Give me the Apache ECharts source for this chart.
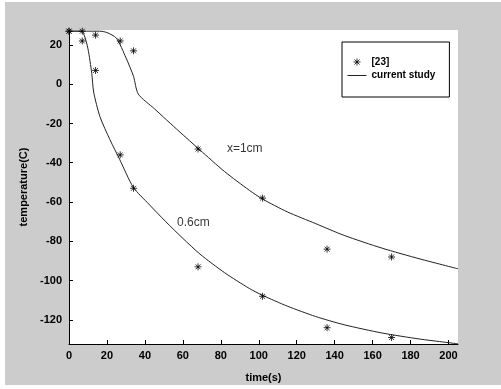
<!DOCTYPE html>
<html>
<head>
<meta charset="utf-8">
<script src="https://cdn.jsdelivr.net/npm/echarts@6/dist/echarts.min.js"></script>
<style>
  html, body { margin: 0; padding: 0; background: #fff; }
  #bg { position: absolute; left: 5px; top: 2px; width: 496px; height: 383px; background: #cccccc; }
  #chart { position: absolute; left: 0; top: 0; width: 501px; height: 389px; }
</style>
</head>
<body>
<div id="bg"></div>
<div id="chart"></div>
<script>
// measured points, reference [23]
let measTime = [0, 7, 14, 27, 34, 68, 102, 136, 170];
let meas1cm = [27, 27, 25, 22, 17, -33, -58, -84, -88];
let meas06cm = [27, 22, 7, -36, -53, -93, -108, -124, -129];

// current study curves
let curveTime1cm = [0, 16, 20, 25, 30, 34, 36.5, 45, 58, 69, 82, 95, 102, 115, 130, 145, 165, 185, 205];
let curve1cm = [27, 27, 26.3, 23.4, 13.5, 4, -5, -12.5, -24, -33.5, -44.5, -54, -58.5, -65, -71, -77, -83.5, -89, -94];
let curveTime06cm = [0, 6, 8, 10, 12, 13, 16.3, 21.6, 26.8, 33.9, 42, 51, 60, 69, 82, 95, 102, 115, 130, 145, 165, 185, 205];
let curve06cm = [27, 27, 25, 18, 5.5, -4, -16.5, -28.3, -38.5, -52.5, -61, -70, -78.5, -86.5, -96, -104, -107.5, -113, -118.3, -122.5, -126.7, -129.8, -132.2];

// curve labels
let noteNames = ['x=1cm', '0.6cm'];
let noteTime = [92.6, 65.5];
let noteTemp = [-32.9, -70.7];

let xTicks = [0, 20, 40, 60, 80, 100, 120, 140, 160, 180, 200];
let yTicks = [-120, -100, -80, -60, -40, -20, 0, 20];

const STAR = 'path://M0,-1L0,1M-1,0L1,0M-0.7,-0.7L0.7,0.7M-0.7,0.7L0.7,-0.7';
// legend icon is not drawn with strokeNoScale, so keep it in pixel units
const STAR_LEGEND = 'path://M0,0M11,11M5.5,2L5.5,9M2,5.5L9,5.5M3,3L8,8M3,8L8,3';
const FONT = 'Liberation Sans, Arial, sans-serif';

function zip(xs, ys) {
  return xs.map((x, i) => [x, ys[i]]);
}

let chart = echarts.init(document.getElementById('chart'));

let starSeries = (values) => ({
  name: '[23]',
  type: 'scatter',
  data: zip(measTime, values),
  symbol: STAR,
  symbolSize: 7,
  itemStyle: { color: '#000', borderColor: '#000', borderWidth: 1 },
  z: 4
});

let curveSeries = (xs, ys) => ({
  name: 'current study',
  type: 'line',
  data: zip(xs, ys),
  symbol: 'none',
  smooth: 0.25,
  itemStyle: { color: '#222' },
  lineStyle: { color: '#222', width: 1 },
  z: 3
});

chart.setOption({
  animation: false,
  backgroundColor: 'transparent',
  grid: {
    left: 69, right: 43, top: 30, bottom: 45,
    show: true, backgroundColor: '#fff', borderWidth: 0
  },
  legend: {
    data: [
      { name: '[23]', icon: STAR_LEGEND, itemStyle: { color: '#000', borderColor: '#000', borderWidth: 1 } },
      {
        name: 'current study',
        itemStyle: { color: 'rgba(0,0,0,0)', borderWidth: 0, opacity: 0 },
        lineStyle: { width: 1, color: '#222' }
      }
    ],
    left: 342, top: 42,
    orient: 'vertical',
    itemGap: 2,
    itemWidth: 19,
    itemHeight: 11,
    symbolKeepAspect: true,
    padding: [14, 14, 16, 5],
    borderColor: '#000',
    borderWidth: 1,
    borderRadius: 0,
    backgroundColor: '#fff',
    lineStyle: { width: 1 },
    textStyle: { fontFamily: FONT, fontWeight: 'bold', fontSize: 10, lineHeight: 11, color: '#000' }
  },
  xAxis: {
    type: 'value',
    min: 0, max: 205,
    name: 'time(s)',
    nameLocation: 'middle',
    nameGap: 28,
    nameTextStyle: { fontFamily: FONT, fontWeight: 'bold', fontSize: 11, color: '#000' },
    axisLine: { onZero: false, lineStyle: { color: '#000', width: 1 } },
    axisTick: { inside: true, length: 4, customValues: xTicks, lineStyle: { color: '#000' } },
    axisLabel: { customValues: xTicks, margin: 6, fontFamily: FONT, fontWeight: 'bold', fontSize: 11, color: '#000' },
    splitLine: { show: false }
  },
  yAxis: {
    type: 'value',
    min: -132.3, max: 27.6,
    name: 'temperature(C)',
    nameLocation: 'middle',
    nameGap: 36,
    nameTextStyle: { fontFamily: FONT, fontWeight: 'bold', fontSize: 11, color: '#000' },
    axisLine: { show: true, onZero: false, lineStyle: { color: '#000', width: 1 } },
    axisTick: { show: true, inside: true, length: 4, customValues: yTicks, lineStyle: { color: '#000' } },
    axisLabel: { customValues: yTicks, margin: 7, fontFamily: FONT, fontWeight: 'bold', fontSize: 11, color: '#000' },
    splitLine: { show: false }
  },
  series: [
    curveSeries(curveTime1cm, curve1cm),
    curveSeries(curveTime06cm, curve06cm),
    starSeries(meas1cm),
    starSeries(meas06cm),
    {
      name: 'notes',
      type: 'scatter',
      symbolSize: 0,
      data: noteNames.map((n, i) => ({ name: n, value: [noteTime[i], noteTemp[i]] })),
      label: {
        show: true, position: 'inside', formatter: '{b}',
        fontFamily: FONT, fontSize: 12, color: '#000'
      },
      silent: true
    }
  ]
});
</script>
</body>
</html>
